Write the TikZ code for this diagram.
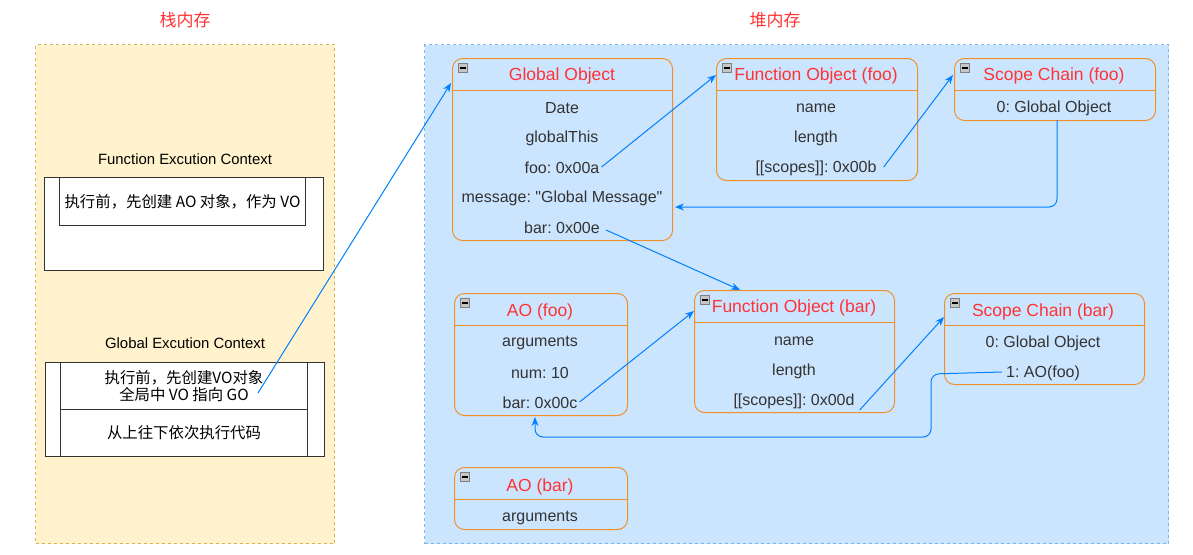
\documentclass[tikz,border=0pt]{standalone}
\usepackage{fontspec}
\setmainfont{Liberation Sans}[Ligatures=TeXOff]
\newfontfamily\cjk{Noto Sans CJK SC}
\usetikzlibrary{arrows.meta}
\frenchspacing
\definecolor{redT}{HTML}{FF3333}
\definecolor{orangeB}{HTML}{F0902A}
\definecolor{txt}{HTML}{333333}
\definecolor{blueA}{HTML}{007FFF}
\definecolor{heapFill}{HTML}{CCE5FF}
\definecolor{heapLine}{HTML}{7EB6F0}
\definecolor{stackFill}{HTML}{FFF2CC}
\definecolor{stackLine}{HTML}{D6B656}
\tikzset{
  region/.style={anchor=north west, line width=1pt, dashed, dash pattern=on 3pt off 3pt, inner sep=0},
  sectitle/.style={text=redT, font=\cjk\fontsize{17}{20}\selectfont},
  lbl/.style={text=black, font=\fontsize{14.9}{17}\selectfont},
  ctx/.style={anchor=north west, draw=txt, line width=1pt, fill=white, inner sep=0, text=black, align=center, font=\cjk\fontsize{15.4}{16.5}\selectfont},
  objbox/.style={anchor=north west, draw=orangeB, line width=1pt, rounded corners=10pt, inner sep=0},
  hline/.style={draw=orangeB, line width=1pt},
  ttl/.style={text=redT, font=\fontsize{17.5}{20}\selectfont, inner sep=0},
  row/.style={text=txt, font=\fontsize{16}{19}\selectfont, inner sep=0},
  icon/.style={draw=gray, fill=gray!45, minimum size=9pt, inner sep=0,
    path picture={\draw[black, line width=1.6pt] ([xshift=1.5pt]path picture bounding box.west) -- ([xshift=-1.5pt]path picture bounding box.east);}},
  conn/.style={draw=blueA, line width=1pt, -{Stealth[length=9pt,width=7pt]}},
}
\begin{document}
\begin{tikzpicture}[x=1pt,y=-1pt]
\path[use as bounding box] (0,0) rectangle (1193,554);

% regions
\node[region, draw=stackLine, fill=stackFill, minimum width=299pt, minimum height=499pt] (stack) at (35,44) {};
\node[sectitle] (stack-t) at (185,20) {栈内存};
\node[region, draw=heapLine, fill=heapFill, minimum width=744pt, minimum height=499pt] (heap) at (424,44) {};
\node[sectitle] (heap-t) at (775,20) {堆内存};

% Function execution context
\node[lbl] (fec-l) at (185,159) {Function Excution Context};
\node[ctx, minimum width=279pt, minimum height=93pt] (fec) at (44,177) {};
\node[ctx, minimum width=246pt, minimum height=48pt] (fec-in) at (59,177) {执行前，先创建 AO 对象，作为 VO};

% Global execution context
\node[lbl] (gec-l) at (185,343) {Global Excution Context};
\node[ctx, minimum width=279pt, minimum height=94pt] (gec) at (45,362) {};
\node[ctx, minimum width=247pt, minimum height=47pt] (gec-a) at (60,362) {执行前，先创建VO对象\\全局中 VO 指向 GO};
\node[ctx, minimum width=247pt, minimum height=47pt] (gec-b) at (60,409) {从上往下依次执行代码};
\coordinate (gec-go) at (258,393);

% Global Object
\node[objbox, minimum width=220pt, minimum height=182pt] (go) at (452,58) {};
\draw[hline] (452,90) -- (672,90);
\node[icon] (go-i) at (463,68) {};
\node[ttl] (go-t) at (562,75.5) {Global Object};
\node[row] (go-date) at (562,108) {Date};
\node[row] (go-gt) at (562,138) {globalThis};
\node[row] (go-foo) at (562,168) {foo: 0x00a};
\node[row] (go-msg) at (562,198) {message: "Global Message"};
\node[row] (go-bar) at (562,228) {bar: 0x00e};
\coordinate (go-w) at (451,83);
\coordinate (go-r) at (675,207);

% Function Object (foo)
\node[objbox, minimum width=201pt, minimum height=122pt] (fo) at (716,58) {};
\draw[hline] (716,90) -- (917,90);
\node[icon] (fo-i) at (727,68) {};
\node[ttl] (fo-t) at (816,75.5) {Function Object (foo)};
\node[row] (fo-name) at (816,108) {name};
\node[row] (fo-len) at (816,138) {length};
\node[row] (fo-sc) at (816,168) {[[scopes]]: 0x00b};
\coordinate (fo-w) at (716,75);

% Scope Chain (foo)
\node[objbox, minimum width=201pt, minimum height=62pt] (sf) at (954,58) {};
\draw[hline] (954,90) -- (1155,90);
\node[icon] (sf-i) at (965,68) {};
\node[ttl] (sf-t) at (1054,75.5) {Scope Chain (foo)};
\node[row] (sf-0) at (1054,108) {0: Global Object};
\coordinate (sf-w) at (953,75);
\coordinate (sf-s) at (1057,120);

% AO (foo)
\node[objbox, minimum width=173pt, minimum height=122pt] (aof) at (454,293) {};
\draw[hline] (454,325) -- (627,325);
\node[icon] (aof-i) at (465,303) {};
\node[ttl] (aof-t) at (540,311.5) {AO (foo)};
\node[row] (aof-arg) at (540,343) {arguments};
\node[row] (aof-num) at (540,373) {num: 10};
\node[row] (aof-bar) at (540,403) {bar: 0x00c};
\coordinate (aof-s) at (535,417);

% Function Object (bar)
\node[objbox, minimum width=200pt, minimum height=122pt] (fb) at (694,290) {};
\draw[hline] (694,322) -- (894,322);
\node[icon] (fb-i) at (705,300) {};
\node[ttl] (fb-t) at (794,307.5) {Function Object (bar)};
\node[row] (fb-name) at (794,341) {name};
\node[row] (fb-len) at (794,371) {length};
\node[row] (fb-sc) at (794,401) {[[scopes]]: 0x00d};
\coordinate (fb-n) at (740,290);
\coordinate (fb-w) at (694,311);

% Scope Chain (bar)
\node[objbox, minimum width=200pt, minimum height=91pt] (sb) at (944,293) {};
\draw[hline] (944,325) -- (1144,325);
\node[icon] (sb-i) at (955,303) {};
\node[ttl] (sb-t) at (1043,311.5) {Scope Chain (bar)};
\node[row] (sb-0) at (1043,343) {0: Global Object};
\node[row] (sb-1) at (1043,373) {1: AO(foo)};
\coordinate (sb-w) at (944,317);

% AO (bar)
\node[objbox, minimum width=173pt, minimum height=62pt] (aob) at (454,467) {};
\draw[hline] (454,499) -- (627,499);
\node[icon] (aob-i) at (465,477) {};
\node[ttl] (aob-t) at (540,486.5) {AO (bar)};
\node[row] (aob-arg) at (540,518) {arguments};

% connectors
\draw[conn] (gec-go) -- (go-w);
\draw[conn] ([xshift=2pt,yshift=1pt]go-foo.east) -- (fo-w);
\draw[conn] ([xshift=7pt,yshift=1pt]fo-sc.east) -- (sf-w);
\draw[conn, rounded corners=8pt] (sf-s) |- (go-r);
\draw[conn] ([xshift=6pt,yshift=-2pt]go-bar.east) -- (fb-n);
\draw[conn] ([xshift=2pt,yshift=1pt]aof-bar.east) -- (fb-w);
\draw[conn] ([xshift=5pt,yshift=-9pt]fb-sc.east) -- (sb-w);
\draw[conn, rounded corners=8pt] ([xshift=-4pt,yshift=1pt]sb-1.west) -- (931,374) -- (931,437) -- (535,437) -- (aof-s);
\end{tikzpicture}
\end{document}
